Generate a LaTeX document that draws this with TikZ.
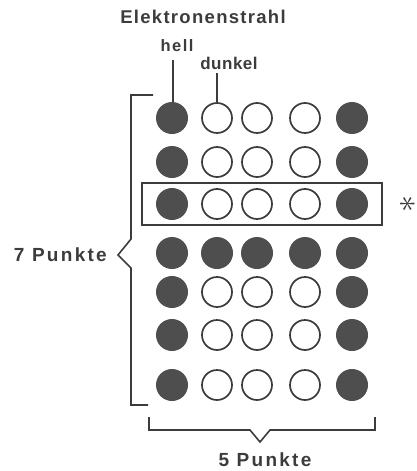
\documentclass[tikz,border=0pt]{standalone}
\usepackage{fontspec}
\setmainfont{Liberation Sans}
\newfontfamily\wideA[LetterSpace=12]{Liberation Sans}
\newfontfamily\wideE[LetterSpace=7]{Liberation Sans}
\newfontfamily\wideB[LetterSpace=9]{Liberation Sans}
\newfontfamily\wideC[LetterSpace=3]{Liberation Sans}
\usetikzlibrary{fit}
\definecolor{ink}{HTML}{3C3C3C}
\definecolor{dotfill}{HTML}{4E4E4E}
\tikzset{
  full/.style={circle, fill=dotfill, minimum size=32pt, inner sep=0pt},
  empty/.style={circle, draw=ink, line width=1.7pt, minimum size=30pt, inner sep=0pt},
  lbl/.style={text=ink, inner sep=0pt},
  stroke/.style={draw=ink, line width=1.6pt},
}
\begin{document}
\begin{tikzpicture}[x=1pt,y=-1pt]
\useasboundingbox (0,0) rectangle (417,471);
% columns and rows
\foreach \r/\y in {1/118,2/162,3/204,4/253,5/292,6/335,7/385}{
  \foreach \c/\x in {1/172,2/217,3/257,4/305,5/352}{
    \coordinate (p\r\c) at (\x,\y);
  }
}
\foreach \r in {1,2,3,5,6,7}{
  \node[full] (c\r1) at (p\r1) {};
  \node[empty] (c\r2) at (p\r2) {};
  \node[empty] (c\r3) at (p\r3) {};
  \node[empty] (c\r4) at (p\r4) {};
  \node[full] (c\r5) at (p\r5) {};
}
\foreach \c in {1,...,5}{ \node[full] (c4\c) at (p4\c) {}; }
% boxed row
\node[stroke, rectangle, fit=(c31)(c35), inner xsep=14pt, inner ysep=5pt] (rowbox) {};
\node[lbl, rotate=90, scale=3.4] (star) at (408,204) {$\ast$};
% labels at top
\node[lbl, font=\wideE\bfseries\fontsize{18.5}{20}\selectfont] (beam) at (203,17) {Elektronenstrahl};
\node[lbl, font=\wideB\bfseries\fontsize{16.5}{18}\selectfont] (hell) at (177,46) {hell};
\node[lbl, font=\wideC\bfseries\fontsize{17}{18}\selectfont] (dunkel) at (229,63) {dunkel};
\coordinate (hl) at (173,60);
\coordinate (dl) at (217,73);
\draw[stroke] (hl) -- (hl |- c11.north);
\draw[stroke] (dl) -- (dl |- c12.north);
% left brace
\coordinate (lt) at (131,95);
\coordinate (ltip) at (118,255);
\coordinate (lb) at (131,405);
\draw[stroke, line join=miter] (153,95) -- (lt) -- (131,239) -- (ltip) -- (131,268) -- (lb) -- (148,405);
\node[lbl, anchor=east, font=\wideA\bfseries\fontsize{19}{21}\selectfont] (seven) at (107,255) {7 Punkte};
% bottom brace
\coordinate (btip) at (260,442);
\draw[stroke, line join=miter] (149,417) -- (149,430) -- (250,430) -- (btip) -- (270,430) -- (375,430) -- (375,417);
\node[lbl, font=\wideA\bfseries\fontsize{19}{21}\selectfont] (five) at (265,460) {5 Punkte};
\end{tikzpicture}
\end{document}
